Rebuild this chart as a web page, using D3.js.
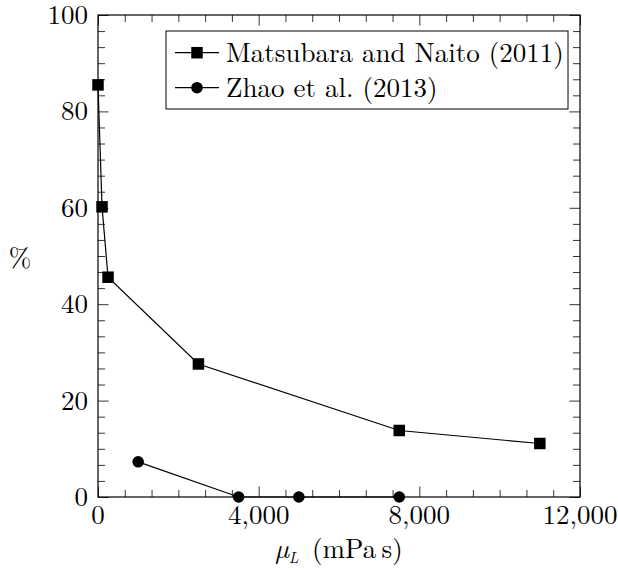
<!DOCTYPE html>
<html>
<head>
<meta charset="utf-8">
<script src="https://cdn.jsdelivr.net/npm/d3@7"></script>
<style>
  html, body { margin: 0; padding: 0; background: #fff; }
  svg { display: block; }
</style>
</head>
<body>
<svg id="chart" width="618" height="574"></svg>
<script>
// ---- data ----
const seriesNames = ["Matsubara and Naito (2011)", "Zhao et al. (2013)"];
const matsubaraX = [0, 100, 250, 2500, 7500, 11000];
const matsubaraY = [85.5, 60.2, 45.6, 27.6, 13.8, 11.1];
const zhaoX = [1000, 3500, 5000, 7500];
const zhaoY = [7.3, 0, 0, 0];
const xTicks = [0, 4000, 8000, 12000];
const yTicks = [0, 20, 40, 60, 80, 100];

// ---- layout ----
const FONT = '"Latin Modern Roman", "Liberation Serif", serif';
const svg = d3.select("#chart").style("font-family", FONT);
const L = 98, R = 580, T = 15, B = 497;
const x = d3.scaleLinear().domain([0, 12000]).range([L, R]);
const y = d3.scaleLinear().domain([0, 100]).range([B, T]);
const majorLen = 10.5, minorLen = 7;
const fs = 27;

const xMinor = d3.range(0, 12000 + 1, 4000 / 6).filter(v => !xTicks.some(t => Math.abs(t - v) < 1));
const yMinor = d3.range(0, 100.01, 20 / 6).filter(v => !yTicks.some(t => Math.abs(t - v) < 0.01));

const g = svg.append("g");

function drawAxis(axisGen, transform) {
  const a = g.append("g").attr("transform", transform).call(axisGen);
  a.select(".domain").remove();
  a.selectAll("line").attr("stroke", "#000").attr("stroke-width", 0.8);
  a.selectAll("text").remove();
  return a;
}
drawAxis(d3.axisTop(x).tickValues(xTicks).tickSize(majorLen), `translate(0,${B})`);
drawAxis(d3.axisTop(x).tickValues(xMinor).tickSize(minorLen), `translate(0,${B})`);
drawAxis(d3.axisBottom(x).tickValues(xTicks).tickSize(majorLen), `translate(0,${T})`);
drawAxis(d3.axisBottom(x).tickValues(xMinor).tickSize(minorLen), `translate(0,${T})`);
drawAxis(d3.axisRight(y).tickValues(yTicks).tickSize(majorLen), `translate(${L},0)`);
drawAxis(d3.axisRight(y).tickValues(yMinor).tickSize(minorLen), `translate(${L},0)`);
drawAxis(d3.axisLeft(y).tickValues(yTicks).tickSize(majorLen), `translate(${R},0)`);
drawAxis(d3.axisLeft(y).tickValues(yMinor).tickSize(minorLen), `translate(${R},0)`);

g.append("rect").attr("x", L).attr("y", T).attr("width", R - L).attr("height", B - T)
  .attr("fill", "none").attr("stroke", "#000").attr("stroke-width", 1.2);

function txt(sel) { return sel.style("font-family", FONT).attr("fill", "#000"); }

const fmt = d3.format(",");
txt(g.selectAll(".xl").data(xTicks).enter().append("text"))
  .attr("x", d => x(d)).attr("y", B + 27)
  .attr("text-anchor", "middle").attr("font-size", fs).text(d => fmt(d));
txt(g.selectAll(".yl").data(yTicks).enter().append("text"))
  .attr("x", L - 10).attr("y", d => y(d) + 9)
  .attr("text-anchor", "end").attr("font-size", fs).text(d => d);

txt(g.append("text")).attr("x", 20).attr("y", 267).attr("text-anchor", "middle")
  .attr("font-size", fs).text("%");
const xt = txt(g.append("text")).attr("x", (L + R) / 2).attr("y", 558)
  .attr("text-anchor", "middle").attr("font-size", fs);
xt.append("tspan").attr("font-style", "italic").text("\u00b5");
xt.append("tspan").attr("font-style", "italic").attr("font-size", 15).attr("dy", 5).text("L");
xt.append("tspan").attr("dy", -5).text("\u2002(mPa\u2009s)");

const line = d3.line().x(d => x(d[0])).y(d => y(d[1]));
const mData = matsubaraX.map((v, i) => [v, matsubaraY[i]]);
const zData = zhaoX.map((v, i) => [v, zhaoY[i]]);
const sq = 11.5, cr = 5.8;

g.append("path").datum(mData).attr("d", line).attr("fill", "none")
  .attr("stroke", "#000").attr("stroke-width", 1.2);
g.append("path").datum(zData).attr("d", line).attr("fill", "none")
  .attr("stroke", "#000").attr("stroke-width", 1.2);

g.selectAll(".sq").data(mData).enter().append("rect")
  .attr("x", d => x(d[0]) - sq / 2).attr("y", d => y(d[1]) - sq / 2)
  .attr("width", sq).attr("height", sq).attr("fill", "#000");
g.selectAll(".ci").data(zData).enter().append("circle")
  .attr("cx", d => x(d[0])).attr("cy", d => y(d[1])).attr("r", cr).attr("fill", "#000");

const lg = g.append("g");
lg.append("rect").attr("x", 166).attr("y", 31).attr("width", 402).attr("height", 78)
  .attr("fill", "#fff").attr("stroke", "#000").attr("stroke-width", 1);
const rows = [52.7, 87.7];
seriesNames.forEach((name, i) => {
  const cy = rows[i];
  lg.append("line").attr("x1", 175).attr("x2", 219).attr("y1", cy).attr("y2", cy)
    .attr("stroke", "#000").attr("stroke-width", 1.2);
  if (i === 0) {
    lg.append("rect").attr("x", 197 - sq / 2).attr("y", cy - sq / 2)
      .attr("width", sq).attr("height", sq).attr("fill", "#000");
  } else {
    lg.append("circle").attr("cx", 197).attr("cy", cy).attr("r", cr).attr("fill", "#000");
  }
  txt(lg.append("text")).attr("x", 226).attr("y", cy + 9.5).attr("font-size", fs).text(name);
});
</script>
</body>
</html>
